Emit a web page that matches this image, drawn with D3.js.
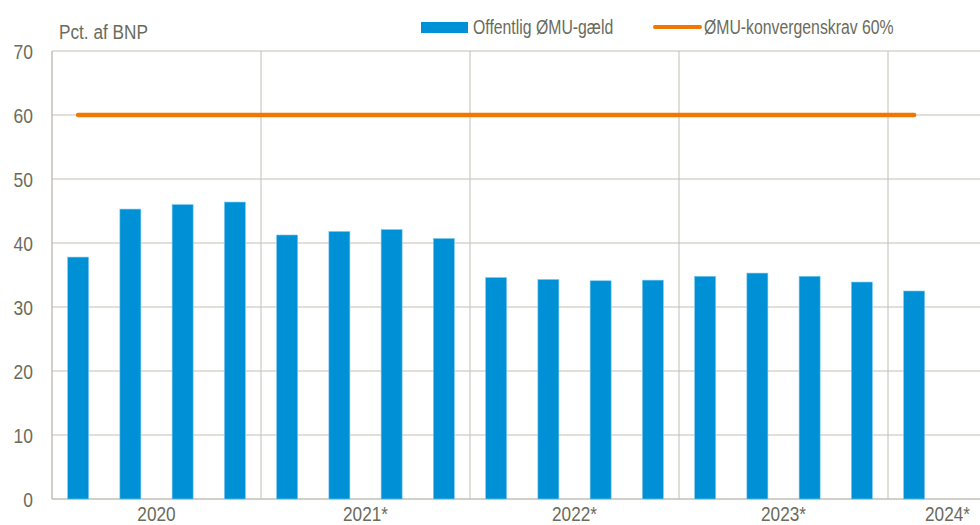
<!DOCTYPE html>
<html>
<head>
<meta charset="utf-8">
<script src="https://cdn.jsdelivr.net/npm/d3@7"></script>
<style>
  body { margin: 0; background: #fff; }
  text { font-family: "Liberation Sans", Arial, sans-serif; fill: #6b6b5b; }
</style>
</head>
<body>
<div id="chart"></div>
<script>
const F_WIDTH = 980;
const F_HEIGHT = 525;
const MARGINS = {left: 52, right: 0, top: 51, bottom: 26};
const GROUP_W = 209;

// data
const YEARS = ["2020", "2021*", "2022*", "2023*", "2024*"];
const QUARTERS = ["2020K1","2020K2","2020K3","2020K4",
                  "2021K1","2021K2","2021K3","2021K4",
                  "2022K1","2022K2","2022K3","2022K4",
                  "2023K1","2023K2","2023K3","2023K4",
                  "2024K1"];
const DEBT = [37.8, 45.3, 46.0, 46.4,
              41.25, 41.8, 42.1, 40.7,
              34.6, 34.3, 34.1, 34.2,
              34.8, 35.3, 34.8, 33.9,
              32.5];
const LIMIT = 60;
const Y_TICKS = [0, 10, 20, 30, 40, 50, 60, 70];
const LEGEND = ["Offentlig ØMU-gæld", "ØMU-konvergenskrav 60%"];

const BLUE = "#0090d5";
const ORANGE = "#f07800";
const GRID = "#c2bfb4";

// the original font is condensed: squeeze the text horizontally
function squeeze(sel, f) {
  sel.each(function() {
    const w = this.getComputedTextLength();
    d3.select(this)
      .attr("textLength", w * f)
      .attr("lengthAdjust", "spacingAndGlyphs");
  });
}

const svg = d3.select("#chart")
  .append("svg")
    .attr("width", F_WIDTH)
    .attr("height", F_HEIGHT);

const X_SCALE = d3.scaleBand()
  .domain(QUARTERS)
  .range([MARGINS.left, MARGINS.left + QUARTERS.length * GROUP_W / 4])
  .padding(0);

const BAR_W = 21;

const Y_SCALE = d3.scaleLinear()
  .domain([0, 70])
  .range([F_HEIGHT - MARGINS.bottom, MARGINS.top]);

// horizontal gridlines
svg.append("g")
  .selectAll("line")
  .data(Y_TICKS)
  .enter()
  .append("line")
    .attr("x1", MARGINS.left)
    .attr("x2", F_WIDTH)
    .attr("y1", d => Y_SCALE(d))
    .attr("y2", d => Y_SCALE(d))
    .attr("stroke", GRID)
    .attr("stroke-width", d => d === 0 ? 1.5 : 1);

// y tick labels
svg.append("g")
  .selectAll("text")
  .data(Y_TICKS)
  .enter()
  .append("text")
    .attr("x", 33)
    .attr("y", d => Y_SCALE(d))
    .attr("dy", "0.36em")
    .attr("text-anchor", "end")
    .attr("font-size", 21)
    .text(d => d)
    .call(squeeze, 0.83);

// year separators
const yearStarts = QUARTERS.filter(q => q.endsWith("K1")).slice(1);
svg.append("g")
  .selectAll("line")
  .data(yearStarts)
  .enter()
  .append("line")
    .attr("x1", d => X_SCALE(d))
    .attr("x2", d => X_SCALE(d))
    .attr("y1", Y_SCALE(70))
    .attr("y2", Y_SCALE(0))
    .attr("stroke", GRID);

// left axis line
svg.append("line")
  .attr("x1", MARGINS.left).attr("x2", MARGINS.left)
  .attr("y1", Y_SCALE(70)).attr("y2", Y_SCALE(0))
  .attr("stroke", GRID)
  .attr("stroke-width", 1.5);

// bars
svg.append("g")
  .selectAll("rect")
  .data(DEBT)
  .enter()
  .append("rect")
    .attr("x", (d, i) => X_SCALE(QUARTERS[i]) + (X_SCALE.bandwidth() - BAR_W) / 2)
    .attr("y", d => Y_SCALE(d))
    .attr("width", BAR_W)
    .attr("height", d => Y_SCALE(0) - Y_SCALE(d))
    .attr("fill", BLUE)
    .attr("stroke", "#7cc8ee")
    .attr("stroke-width", 0.6);

// 60% line
const line = d3.line()
  .x(d => X_SCALE(d) + X_SCALE.bandwidth() / 2)
  .y(() => Y_SCALE(LIMIT));
svg.append("path")
  .datum(QUARTERS)
  .attr("d", line)
  .attr("fill", "none")
  .attr("stroke", ORANGE)
  .attr("stroke-width", 4.5)
  .attr("stroke-linecap", "round");

// year labels
svg.append("g")
  .selectAll("text")
  .data(YEARS)
  .enter()
  .append("text")
    .attr("y", 521)
    .attr("font-size", 20)
    .attr("text-anchor", "middle")
    .text(d => d)
    .call(squeeze, 0.86)
    .attr("x", function(d, i) {
      const cx = MARGINS.left + GROUP_W * (i + 0.5);
      const w = +this.getAttribute("textLength");
      return Math.min(cx, F_WIDTH - 10 - w / 2);
    });

// axis title
svg.append("text")
  .attr("x", 59)
  .attr("y", 39)
  .attr("font-size", 20)
  .text("Pct. af BNP")
  .call(squeeze, 0.86);

// legend
svg.append("rect")
  .attr("x", 421).attr("y", 22)
  .attr("width", 47).attr("height", 11)
  .attr("fill", BLUE);
svg.append("text")
  .attr("x", 473).attr("y", 34)
  .attr("font-size", 20)
  .text(LEGEND[0])
  .call(squeeze, 0.79);
svg.append("line")
  .attr("x1", 655).attr("x2", 700)
  .attr("y1", 27).attr("y2", 27)
  .attr("stroke", ORANGE)
  .attr("stroke-width", 4)
  .attr("stroke-linecap", "round");
svg.append("text")
  .attr("x", 704).attr("y", 34)
  .attr("font-size", 20)
  .text(LEGEND[1])
  .call(squeeze, 0.79);
</script>
</body>
</html>
